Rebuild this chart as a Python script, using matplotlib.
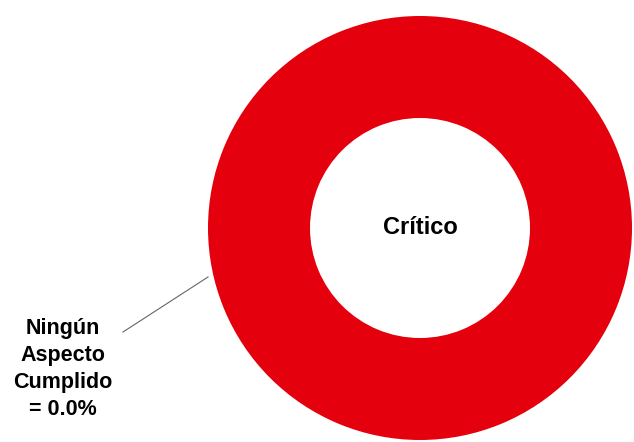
import matplotlib.pyplot as plt

# data
categories = ["Ningún Aspecto Cumplido"]
values = [100]
shown_pct = [0.0]
center_label = "Crítico"
colors = ["#e5000d"]

plt.rcParams['font.family'] = ['Liberation Sans', 'DejaVu Sans']

fig = plt.figure(figsize=(6.34, 4.42), dpi=100)
ax = fig.add_axes([0, 0, 1, 1])

# donut, drawn in pixel-like coordinates
ax.pie(values, colors=colors, radius=212, center=(420, 214), startangle=90,
       counterclock=False, wedgeprops=dict(width=102, linewidth=0))
ax.set_xlim(0, 634)
ax.set_ylim(0, 442)
ax.set_aspect('equal')
ax.axis('off')

ax.text(420, 214, center_label, ha='center', va='center',
        fontsize=17, fontweight='bold')

lbl = "\n".join(categories[0].split(" ")) + "\n= %.1f%%" % shown_pct[0]
ax.text(63, 73, lbl, ha='center', va='center', fontsize=15.5,
        fontweight='bold', linespacing=1.38)
ax.plot([123, 208], [110, 165], color='#666666', linewidth=0.8)

fig.savefig('out.png', dpi=100)
